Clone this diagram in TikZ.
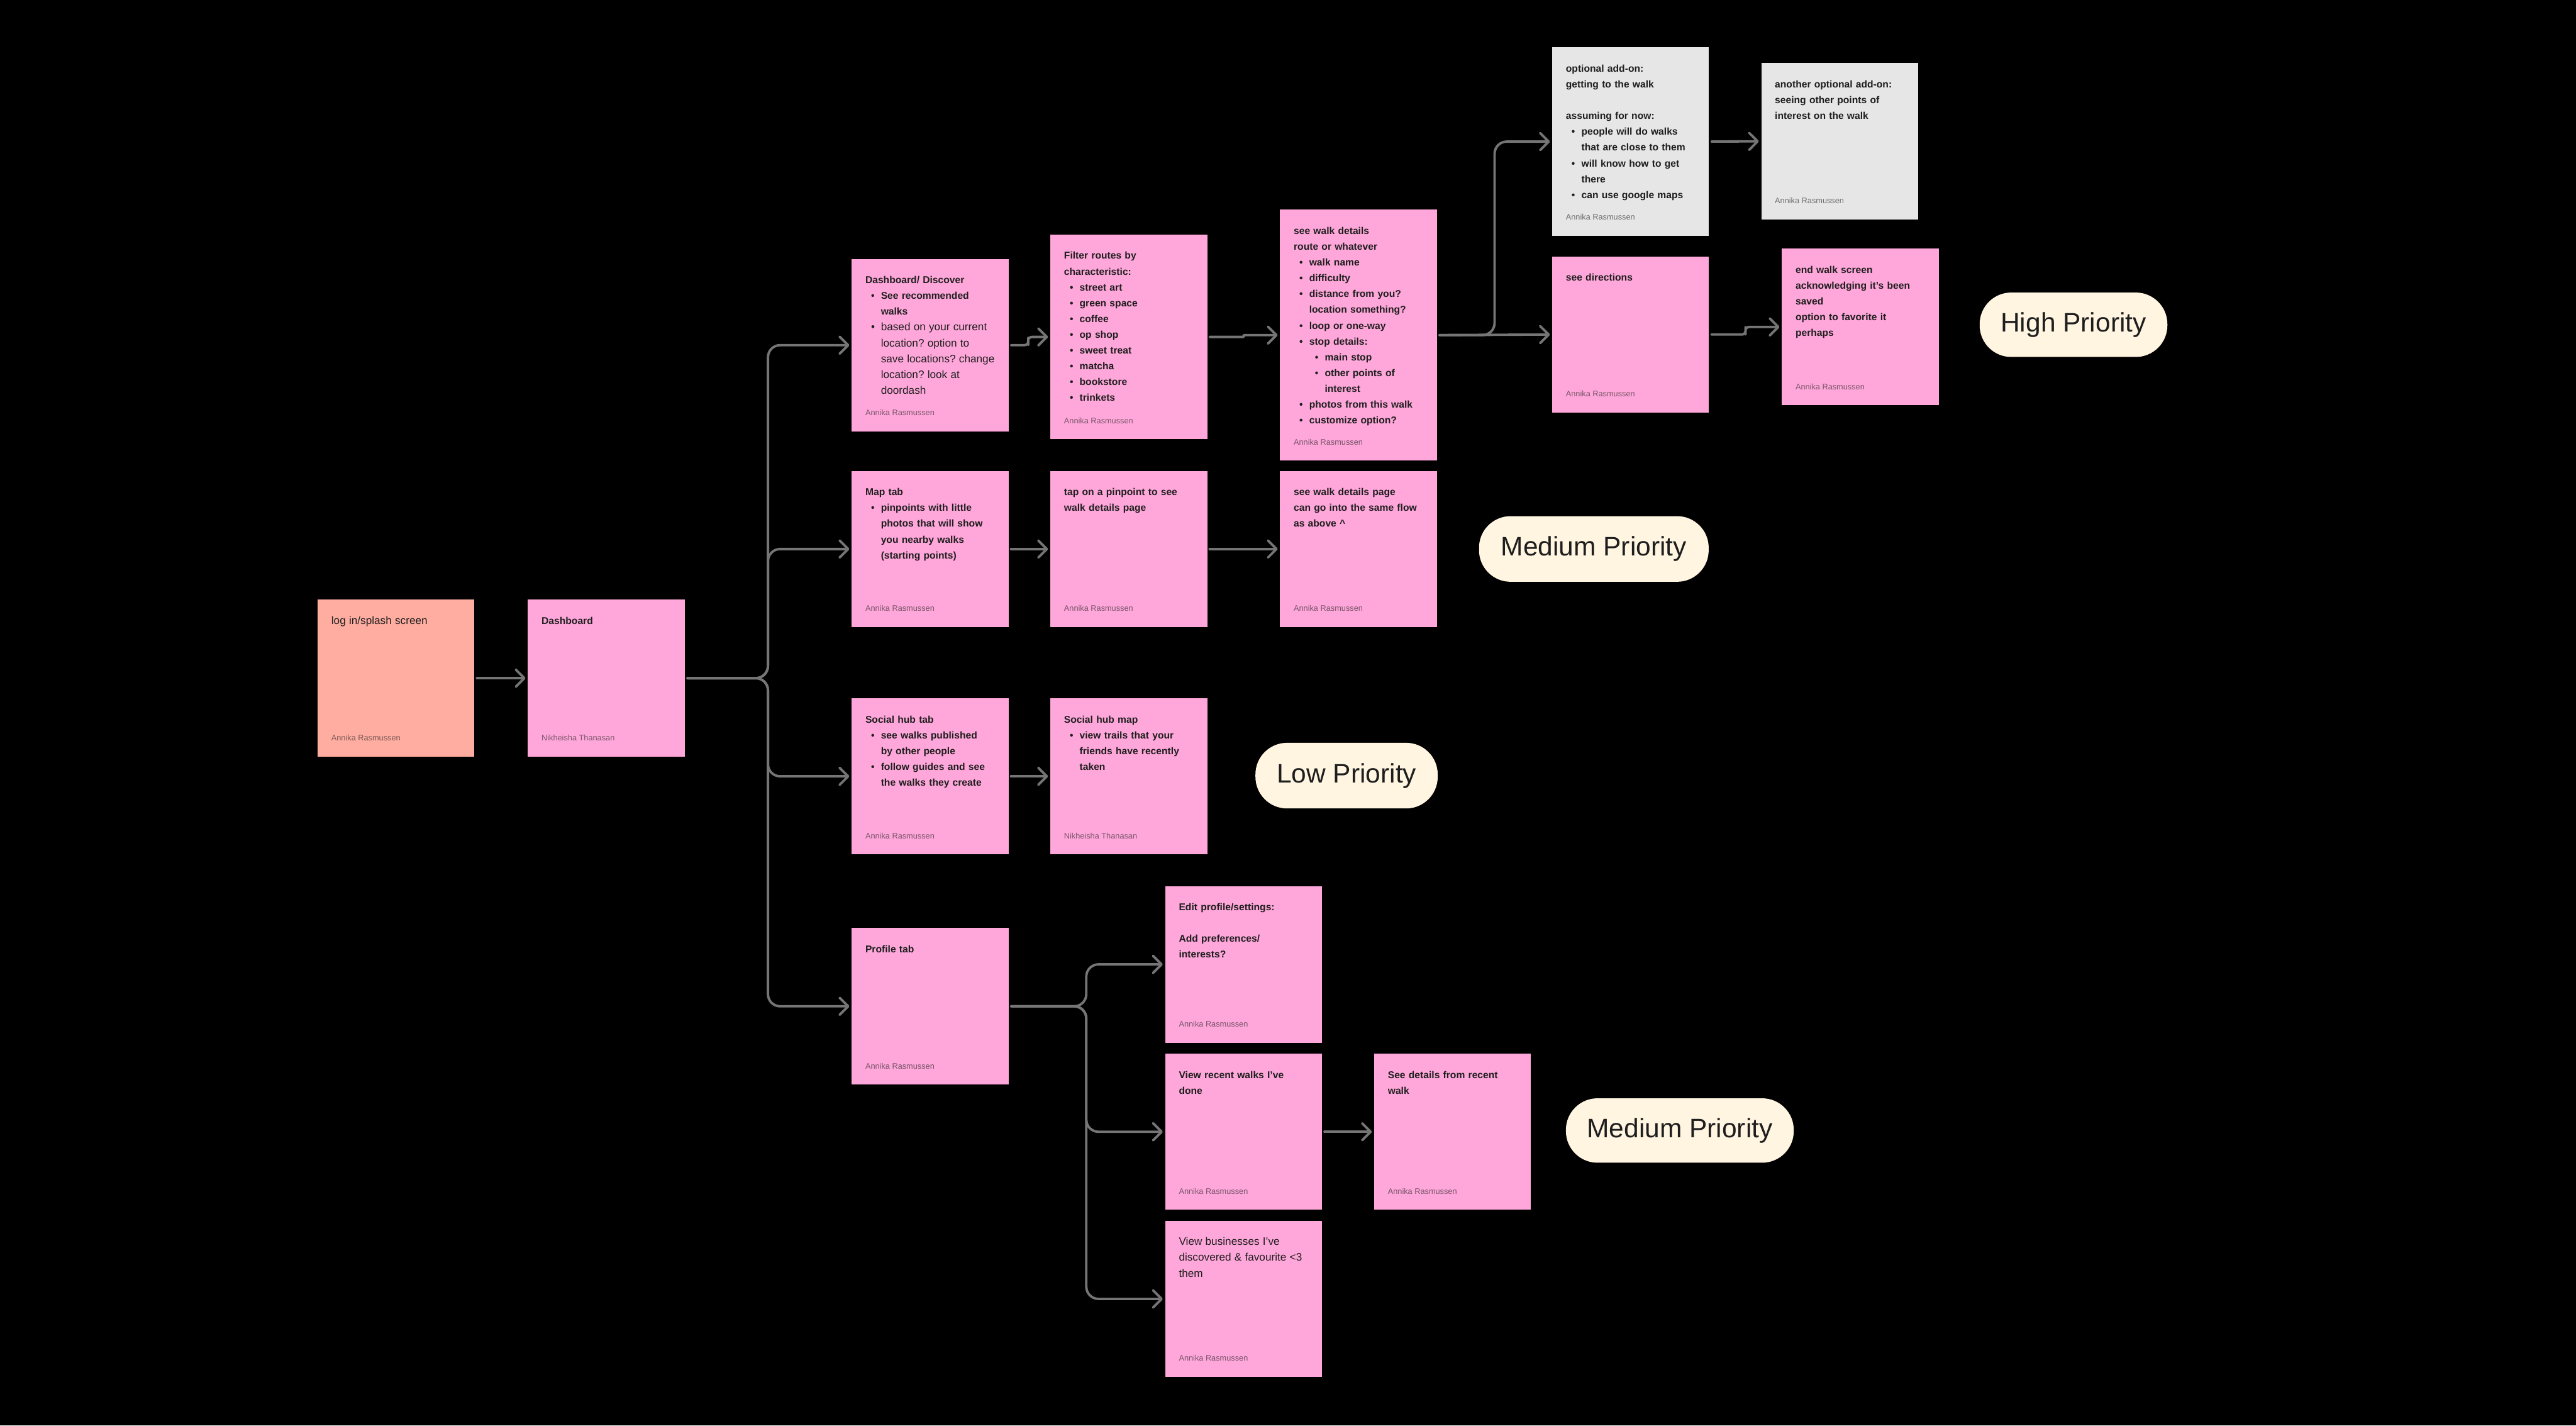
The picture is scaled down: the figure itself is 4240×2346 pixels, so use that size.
\documentclass[tikz,border=0pt]{standalone}
\usepackage{fontspec}
\setmainfont{Liberation Sans}
\usetikzlibrary{arrows.meta,calc}
\definecolor{pinkS}{HTML}{FFA7DA}
\definecolor{salmonS}{HTML}{FFADA1}
\definecolor{grayS}{HTML}{E6E6E6}
\definecolor{creamP}{HTML}{FFF5E1}
\definecolor{connC}{HTML}{757575}
\definecolor{inkC}{HTML}{1E1E1E}
\frenchspacing
\newcommand\bul{\makebox[12.8pt][l]{\hspace{4.7pt}•}}
\newcommand\indt{\hspace*{12.8pt}}
\newcommand\rgw{\mdseries\fontsize{8.9}{13}\selectfont}
\newcommand\mksticky[5]{\node[stickybox, fill=#2, minimum height=#5pt] (#1) at (#3,#4) {};}
\newcommand\mktxt[2]{\node[txt] (#1-t) at ([xshift=11pt,yshift=-10.9pt]#1.north west) {\strut #2};}
\newcommand\mkauth[2]{\node[auth] (#1-a) at ([xshift=11pt,yshift=13pt]#1.south west) {#2};}
\begin{document}
\begin{tikzpicture}[x=0.5pt, y=-0.5pt,
  stickybox/.style={anchor=north west, minimum width=129pt, inner sep=0pt, outer sep=0pt},
  txt/.style={anchor=north west, inner sep=0pt, text width=124pt, align=left, font=\fontsize{8.1}{13}\selectfont\bfseries\frenchspacing, text=inkC},
  auth/.style={anchor=base west, inner sep=0pt, font=\fontsize{6.6}{7.5}\selectfont, text=inkC, text opacity=0.6},
  pill/.style={anchor=north west, fill=creamP, rounded corners=26pt, inner sep=0pt, font=\fontsize{22}{26}\selectfont, text=inkC},
  conn/.style={draw=connC, line width=2pt, rounded corners=10pt, shorten <=2pt, shorten >=2pt, -{Straight Barb[length=7pt,width=14pt,round]}, line cap=round, line join=round}]
\fill[black] (0,0) rectangle (4240,2346);

% stickies
\mksticky{login}{salmonS}{523}{987}{129}
\mksticky{dash}{pinkS}{869}{987}{129}
\mksticky{disc}{pinkS}{1402}{426}{142}
\mksticky{filt}{pinkS}{1729}{386}{168.5}
\mksticky{walk}{pinkS}{2107}{345}{206.5}
\mksticky{opt}{grayS}{2555}{78}{155}
\mksticky{another}{grayS}{2899}{104}{128.5}
\mksticky{dirs}{pinkS}{2555}{422}{128.5}
\mksticky{endw}{pinkS}{2933}{409}{129}
\mksticky{map}{pinkS}{1402}{775}{128.5}
\mksticky{tap}{pinkS}{1729}{775}{128.5}
\mksticky{wpage}{pinkS}{2107}{775}{128.5}
\mksticky{soc}{pinkS}{1402}{1149}{128.5}
\mksticky{socmap}{pinkS}{1729}{1149}{128.5}
\mksticky{prof}{pinkS}{1402}{1527}{129}
\mksticky{edit}{pinkS}{1918}{1458}{129}
\mksticky{recent}{pinkS}{1918}{1734}{128.5}
\mksticky{recdet}{pinkS}{2262}{1734}{128.5}
\mksticky{biz}{pinkS}{1918}{2009}{128.5}

% texts
\mktxt{login}{\rgw log in/splash screen}
\mktxt{dash}{Dashboard}
\mktxt{disc}{Dashboard/ Discover\\
\bul See recommended\\
\indt walks\\
\rgw\bul based on your current\\
\indt location? option to\\
\indt save locations? change\\
\indt location? look at\\
\indt doordash}
\mktxt{filt}{Filter routes by\\
characteristic:\\
\bul street art\\
\bul green space\\
\bul coffee\\
\bul op shop\\
\bul sweet treat\\
\bul matcha\\
\bul bookstore\\
\bul trinkets}
\mktxt{walk}{see walk details\\
route or whatever\\
\bul walk name\\
\bul difficulty\\
\bul distance from you?\\
\indt location something?\\
\bul loop or one-way\\
\bul stop details:\\
\indt\bul main stop\\
\indt\bul other points of\\
\indt\indt interest\\
\bul photos from this walk\\
\bul customize option?}
\mktxt{opt}{optional add-on:\\
getting to the walk\\
\mbox{}\\
assuming for now:\\
\bul people will do walks\\
\indt that are close to them\\
\bul will know how to get\\
\indt there\\
\bul can use google maps}
\mktxt{another}{another optional add-on:\\
seeing other points of\\
interest on the walk}
\mktxt{dirs}{see directions}
\mktxt{endw}{end walk screen\\
acknowledging it’s been\\
saved\\
option to favorite it\\
perhaps}
\mktxt{map}{Map tab\\
\bul pinpoints with little\\
\indt photos that will show\\
\indt you nearby walks\\
\indt (starting points)}
\mktxt{tap}{tap on a pinpoint to see\\
walk details page}
\mktxt{wpage}{see walk details page\\
can go into the same flow\\
as above \textasciicircum}
\mktxt{soc}{Social hub tab\\
\bul see walks published\\
\indt by other people\\
\bul follow guides and see\\
\indt the walks they create}
\mktxt{socmap}{Social hub map\\
\bul view trails that your\\
\indt friends have recently\\
\indt taken}
\mktxt{prof}{Profile tab}
\mktxt{edit}{Edit profile/settings:\\
\mbox{}\\
Add preferences/\\
interests?}
\mktxt{recent}{View recent walks I’ve\\
done}
\mktxt{recdet}{See details from recent\\
walk}
\mktxt{biz}{\rgw View businesses I’ve\\
discovered \& favourite <3\\
them}

% authors
\mkauth{login}{Annika Rasmussen}
\mkauth{dash}{Nikheisha Thanasan}
\mkauth{disc}{Annika Rasmussen}
\mkauth{filt}{Annika Rasmussen}
\mkauth{walk}{Annika Rasmussen}
\mkauth{opt}{Annika Rasmussen}
\mkauth{another}{Annika Rasmussen}
\mkauth{dirs}{Annika Rasmussen}
\mkauth{endw}{Annika Rasmussen}
\mkauth{map}{Annika Rasmussen}
\mkauth{tap}{Annika Rasmussen}
\mkauth{wpage}{Annika Rasmussen}
\mkauth{soc}{Annika Rasmussen}
\mkauth{socmap}{Nikheisha Thanasan}
\mkauth{prof}{Annika Rasmussen}
\mkauth{edit}{Annika Rasmussen}
\mkauth{recent}{Annika Rasmussen}
\mkauth{recdet}{Annika Rasmussen}
\mkauth{biz}{Annika Rasmussen}

% priority pills
\node[pill, minimum width=154.5pt, minimum height=53pt] (high) at (3258,481) {High Priority};
\node[pill, minimum width=189pt, minimum height=54pt] (med1) at (2434,849) {Medium Priority};
\node[pill, minimum width=150pt, minimum height=54pt] (low) at (2066,1222) {Low Priority};
\node[pill, minimum width=187.5pt, minimum height=53pt] (med2) at (2577,1807) {Medium Priority};

% bus points
\coordinate (dbus) at (1264,1116);
\coordinate (wbus) at (2460,551.5);
\coordinate (pbus) at (1788,1656);

% connectors
\draw[conn] (login.east) -- (dash.west);
\draw[conn] (dash.east) -- (dash.east -| dbus) |- (disc.west);
\draw[conn] (dash.east) -- (dash.east -| dbus) |- (map.west);
\draw[conn] (dash.east) -- (dash.east -| dbus) |- (soc.west);
\draw[conn] (dash.east) -- (dash.east -| dbus) |- (prof.west);

\draw[conn, rounded corners=3pt] (disc.east) -| ($(disc.east)!0.47!(filt.west)$) |- (filt.west);
\draw[conn, rounded corners=0.8pt] (filt.east) -| ($(filt.east)!0.5!(walk.west)$) |- (walk.west);
\draw[conn] (walk.east) -- (dirs.west);
\draw[conn] (walk.east) -- (walk.east -| wbus) |- (opt.west);
\draw[conn] (opt.east) -- (another.west);
\draw[conn, rounded corners=3pt] (dirs.east) -| ($(dirs.east)!0.5!(endw.west)$) |- (endw.west);

\draw[conn] (map.east) -- (tap.west);
\draw[conn] (tap.east) -- (wpage.west);
\draw[conn] (soc.east) -- (socmap.west);

\draw[conn] (prof.east) -- (prof.east -| pbus) |- (edit.west);
\draw[conn] (prof.east) -- (prof.east -| pbus) |- (recent.west);
\draw[conn] (prof.east) -- (prof.east -| pbus) |- (biz.west);
\draw[conn] (recent.east) -- (recdet.west);
\end{tikzpicture}
\end{document}
